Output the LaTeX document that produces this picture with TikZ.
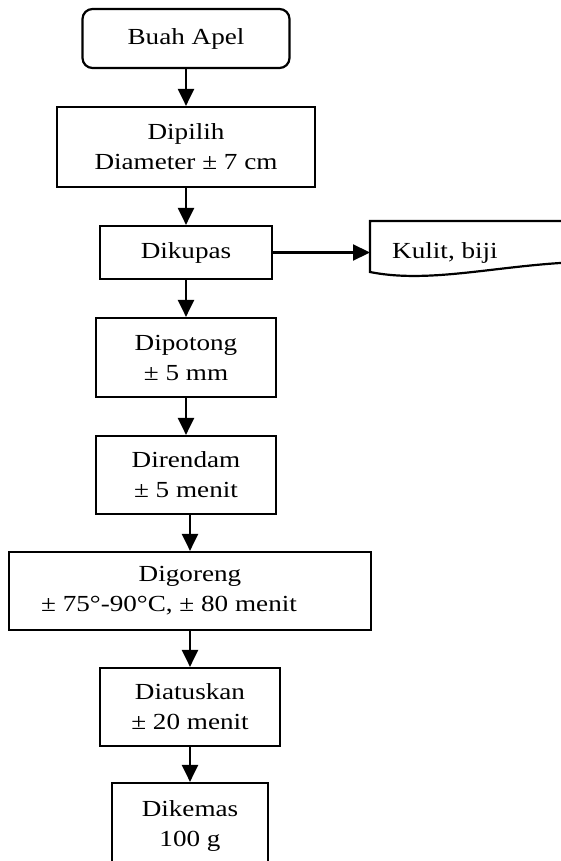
\documentclass[tikz,border=0pt]{standalone}
\usepackage{fontspec}
\setmainfont[FakeStretch=1.18]{Liberation Serif}
\usetikzlibrary{arrows.meta}
\begin{document}
\begin{tikzpicture}[x=1pt,y=-1pt,
  box/.style={draw, line width=2.2pt, inner sep=0pt, align=center, font=\fontsize{23}{30}\selectfont},
  txt/.style={inner sep=0pt, font=\fontsize{23}{30}\selectfont},
  arr/.style={line width=2.2pt, -{Triangle[width=16pt,length=17pt]}}]
\useasboundingbox (0,0) rectangle (561,861);
\clip (0,0) rectangle (561,861);
\node[box, rounded corners=10pt, minimum width=207pt, minimum height=59pt] (apel) at (186,38.5) {Buah Apel};
\node[box, minimum width=258pt, minimum height=80pt] (pilih) at (186,147) {Dipilih\\Diameter ± 7 cm};
\node[box, minimum width=172pt, minimum height=53pt] (kupas) at (186,252.5) {Dikupas};
\node[txt, anchor=west, inner xsep=22pt] (kulit) at (370,252.5) {Kulit, biji};
\draw[line width=2.2pt] (620,221) -- (370,221) -- (370,272) .. controls (440,286) and (520,258) .. (620,262);
\node[box, minimum width=180pt, minimum height=79pt] (potong) at (186,357.5) {Dipotong\\± 5 mm};
\node[box, minimum width=180pt, minimum height=78pt] (rendam) at (186,475) {Direndam\\± 5 menit};
\node[box, minimum width=362pt, minimum height=78pt] (goreng) at (190,591) {Digoreng\\± 75°-90°C, ± 80 menit\hspace*{42pt}};
\node[box, minimum width=180pt, minimum height=78pt] (atus) at (190,707) {Diatuskan\\± 20 menit};
\node[box, minimum width=156pt, minimum height=86pt] (kemas) at (190,826) {Dikemas\\100 g};
\draw[arr] (apel.south) -- (pilih.north);
\draw[arr] (pilih.south) -- (kupas.north);
\draw[arr] (kupas.east) -- (kulit.west);
\draw[arr] (kupas.south) -- (potong.north);
\draw[arr] (potong.south) -- (rendam.north);
\draw[arr] (rendam.south -| goreng.north) -- (goreng.north);
\draw[arr] (goreng.south) -- (atus.north);
\draw[arr] (atus.south) -- (kemas.north);
\end{tikzpicture}
\end{document}
